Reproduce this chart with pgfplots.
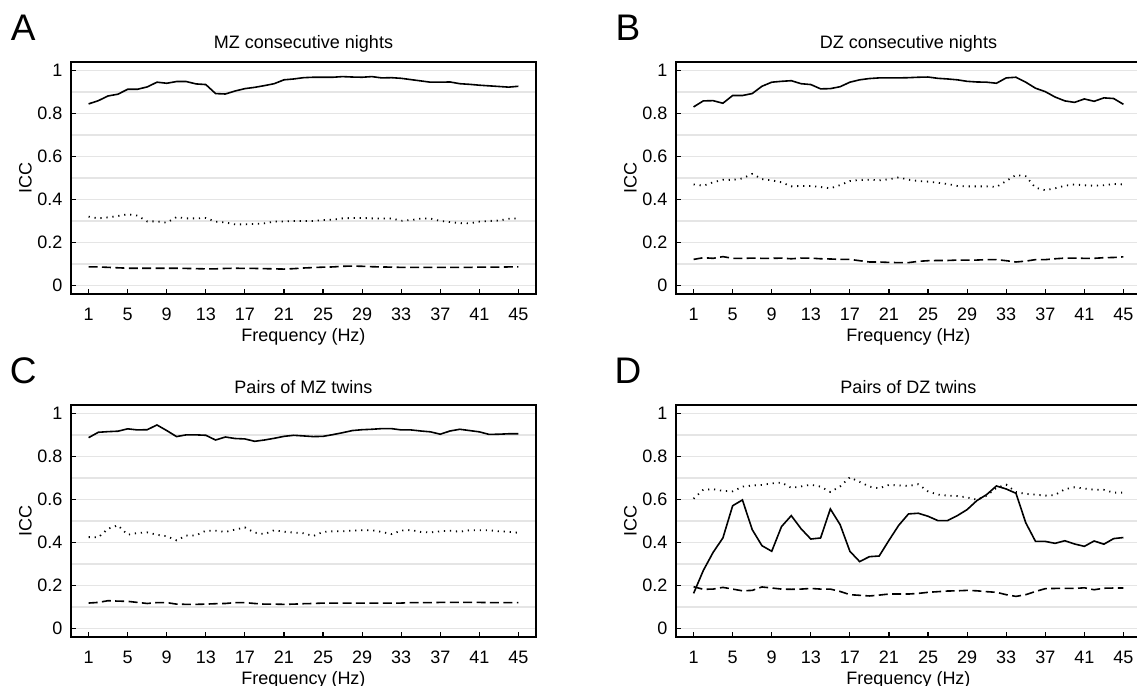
\documentclass[border=0pt]{standalone}
\usepackage{pgfplots}
\usepackage{pgfplotstable}
\pgfplotsset{compat=1.18}
\usepackage{fontspec}
\setmainfont{Liberation Sans}

% columns: f = frequency, s = solid, o = dotted, d = dashed
\pgfplotstableread{
f s o d
1 0.845 0.320 0.086
2 0.860 0.312 0.086
3 0.882 0.317 0.084
4 0.890 0.323 0.082
5 0.913 0.331 0.080
6 0.913 0.325 0.080
7 0.924 0.298 0.080
8 0.946 0.298 0.080
9 0.941 0.292 0.080
10 0.949 0.318 0.080
11 0.949 0.312 0.079
12 0.938 0.312 0.078
13 0.935 0.314 0.077
14 0.893 0.297 0.077
15 0.891 0.293 0.079
16 0.905 0.284 0.080
17 0.916 0.284 0.079
18 0.922 0.286 0.079
19 0.930 0.289 0.078
20 0.939 0.297 0.077
21 0.957 0.298 0.076
22 0.961 0.300 0.078
23 0.967 0.300 0.081
24 0.969 0.300 0.083
25 0.969 0.304 0.085
26 0.969 0.306 0.086
27 0.972 0.312 0.089
28 0.970 0.314 0.090
29 0.969 0.314 0.089
30 0.972 0.312 0.087
31 0.966 0.311 0.086
32 0.967 0.312 0.085
33 0.964 0.301 0.084
34 0.958 0.304 0.084
35 0.952 0.311 0.084
36 0.946 0.311 0.084
37 0.946 0.300 0.084
38 0.947 0.295 0.084
39 0.939 0.290 0.084
40 0.936 0.289 0.084
41 0.932 0.297 0.085
42 0.929 0.300 0.085
43 0.926 0.302 0.085
44 0.923 0.310 0.086
45 0.927 0.312 0.086
}\tabA

\pgfplotstableread{
f s o d
1 0.831 0.470 0.121
2 0.859 0.464 0.129
3 0.860 0.480 0.126
4 0.848 0.492 0.134
5 0.884 0.491 0.126
6 0.884 0.498 0.126
7 0.893 0.519 0.127
8 0.927 0.495 0.126
9 0.946 0.489 0.126
10 0.950 0.480 0.127
11 0.953 0.461 0.124
12 0.939 0.463 0.127
13 0.935 0.463 0.127
14 0.915 0.458 0.124
15 0.916 0.452 0.123
16 0.925 0.467 0.121
17 0.946 0.486 0.121
18 0.957 0.491 0.115
19 0.963 0.492 0.109
20 0.966 0.489 0.109
21 0.966 0.494 0.107
22 0.966 0.503 0.106
23 0.967 0.492 0.106
24 0.969 0.486 0.112
25 0.970 0.483 0.115
26 0.964 0.478 0.116
27 0.961 0.472 0.116
28 0.957 0.463 0.118
29 0.950 0.461 0.118
30 0.947 0.461 0.118
31 0.946 0.461 0.120
32 0.941 0.458 0.120
33 0.966 0.486 0.115
34 0.969 0.514 0.109
35 0.946 0.508 0.113
36 0.918 0.455 0.120
37 0.902 0.443 0.120
38 0.877 0.452 0.124
39 0.859 0.464 0.127
40 0.852 0.470 0.127
41 0.868 0.466 0.126
42 0.857 0.464 0.126
43 0.873 0.466 0.129
44 0.870 0.472 0.130
45 0.843 0.470 0.133
}\tabB

\pgfplotstableread{
f s o d
1 0.888 0.425 0.118
2 0.913 0.424 0.121
3 0.916 0.464 0.129
4 0.918 0.480 0.127
5 0.929 0.436 0.126
6 0.924 0.444 0.121
7 0.925 0.447 0.116
8 0.947 0.436 0.120
9 0.921 0.429 0.120
10 0.893 0.410 0.113
11 0.901 0.432 0.112
12 0.901 0.433 0.112
13 0.899 0.455 0.113
14 0.877 0.455 0.115
15 0.891 0.449 0.116
16 0.884 0.460 0.120
17 0.882 0.470 0.120
18 0.871 0.446 0.116
19 0.877 0.439 0.113
20 0.885 0.457 0.113
21 0.894 0.450 0.112
22 0.899 0.446 0.113
23 0.896 0.443 0.115
24 0.893 0.430 0.116
25 0.894 0.449 0.118
26 0.902 0.452 0.118
27 0.911 0.452 0.118
28 0.921 0.455 0.118
29 0.925 0.457 0.118
30 0.927 0.457 0.118
31 0.930 0.449 0.118
32 0.930 0.439 0.118
33 0.924 0.455 0.118
34 0.924 0.458 0.120
35 0.919 0.449 0.120
36 0.915 0.447 0.120
37 0.904 0.452 0.121
38 0.919 0.455 0.121
39 0.927 0.450 0.121
40 0.921 0.457 0.121
41 0.915 0.457 0.121
42 0.903 0.457 0.120
43 0.904 0.452 0.120
44 0.906 0.450 0.120
45 0.906 0.445 0.120
}\tabC

\pgfplotstableread{
f s o d
1 0.163 0.604 0.194
2 0.270 0.646 0.182
3 0.354 0.648 0.183
4 0.421 0.640 0.191
5 0.571 0.638 0.183
6 0.598 0.660 0.175
7 0.460 0.665 0.177
8 0.385 0.668 0.193
9 0.359 0.675 0.188
10 0.474 0.679 0.183
11 0.525 0.654 0.182
12 0.464 0.661 0.183
13 0.416 0.669 0.186
14 0.421 0.660 0.183
15 0.556 0.635 0.183
16 0.483 0.661 0.172
17 0.359 0.703 0.157
18 0.311 0.682 0.154
19 0.334 0.660 0.151
20 0.337 0.652 0.155
21 0.410 0.668 0.160
22 0.480 0.666 0.160
23 0.533 0.663 0.160
24 0.536 0.671 0.163
25 0.522 0.638 0.168
26 0.502 0.623 0.171
27 0.502 0.618 0.174
28 0.525 0.616 0.175
29 0.553 0.610 0.177
30 0.595 0.599 0.175
31 0.623 0.618 0.171
32 0.663 0.654 0.168
33 0.649 0.669 0.157
34 0.629 0.635 0.149
35 0.492 0.626 0.157
36 0.405 0.623 0.172
37 0.405 0.618 0.185
38 0.396 0.621 0.186
39 0.408 0.648 0.186
40 0.393 0.657 0.186
41 0.382 0.651 0.189
42 0.407 0.646 0.180
43 0.392 0.645 0.187
44 0.418 0.632 0.188
45 0.423 0.632 0.188
}\tabD

\pgfplotsset{
  panel/.style={
    scale only axis, width=232.5pt, height=116pt,
    xmin=-0.8, xmax=46.8, ymin=-0.04, ymax=1.04,
    xtick={1,5,9,13,17,21,25,29,33,37,41,45},
    ytick={0,0.2,0.4,0.6,0.8,1},
    yticklabels={0,0.2,0.4,0.6,0.8,1},
    minor ytick={0.1,0.3,0.5,0.7,0.9},
    ymajorgrids, yminorgrids,
    major grid style={gray!20, line width=0.7pt},
    minor grid style={gray!20, line width=0.7pt},
    tick align=inside, tick pos=left,
    major tick length=2.5pt, minor tick length=0pt,
    axis line style={line width=0.8pt},
    tick style={black, line width=0.6pt},
    /pgf/number format/assume math mode=true,
    tick label style={font=\fontsize{9}{10}\selectfont},
    label style={font=\fontsize{9}{10}\selectfont},
    title style={font=\fontsize{9}{10}\selectfont, at={(axis description cs:0.5,1.078)}, anchor=center, yshift=-6pt},
    xticklabel style={yshift=-3.3pt},
    yticklabel style={xshift=-0.8pt},
    xlabel={Frequency (Hz)},
    ylabel={ICC},
    xlabel style={at={(axis description cs:0.5,-0.183)}, anchor=center},
    ylabel style={at={(axis description cs:-0.0978,0.5)}, anchor=center},
    clip=false,
  },
  ls/.style={black, line width=0.8pt, solid},
  lo/.style={black, line width=0.9pt, dash pattern=on 0.6pt off 2.4pt},
  ld/.style={black, line width=0.8pt, dash pattern=on 4.5pt off 2.2pt},
}
\tikzset{letter/.style={font=\fontsize{18.5}{20}\selectfont, inner sep=0pt}}

\begin{document}
\begin{tikzpicture}
\useasboundingbox (0,0) rectangle (568.5pt,343pt);

\begin{axis}[panel, at={(35.5pt,196pt)}, anchor=south west, title={MZ consecutive nights}]
\addplot[ls] table[x=f,y=s] {\tabA};
\addplot[lo] table[x=f,y=o] {\tabA};
\addplot[ld] table[x=f,y=d] {\tabA};
\end{axis}

\begin{axis}[panel, at={(338pt,196pt)}, anchor=south west, title={DZ consecutive nights}]
\addplot[ls] table[x=f,y=s] {\tabB};
\addplot[lo] table[x=f,y=o] {\tabB};
\addplot[ld] table[x=f,y=d] {\tabB};
\end{axis}

\begin{axis}[panel, at={(35.5pt,24.5pt)}, anchor=south west, title={Pairs of MZ twins}]
\addplot[ls] table[x=f,y=s] {\tabC};
\addplot[lo] table[x=f,y=o] {\tabC};
\addplot[ld] table[x=f,y=d] {\tabC};
\end{axis}

\begin{axis}[panel, at={(338pt,24.5pt)}, anchor=south west, title={Pairs of DZ twins}]
\addplot[ls] table[x=f,y=s] {\tabD};
\addplot[lo] table[x=f,y=o] {\tabD};
\addplot[ld] table[x=f,y=d] {\tabD};
\end{axis}

\node[letter] at (11.65pt,329pt) {A};
\node[letter] at (314pt,329pt) {B};
\node[letter] at (11.65pt,157.5pt) {C};
\node[letter] at (314pt,157.5pt) {D};
\end{tikzpicture}
\end{document}
